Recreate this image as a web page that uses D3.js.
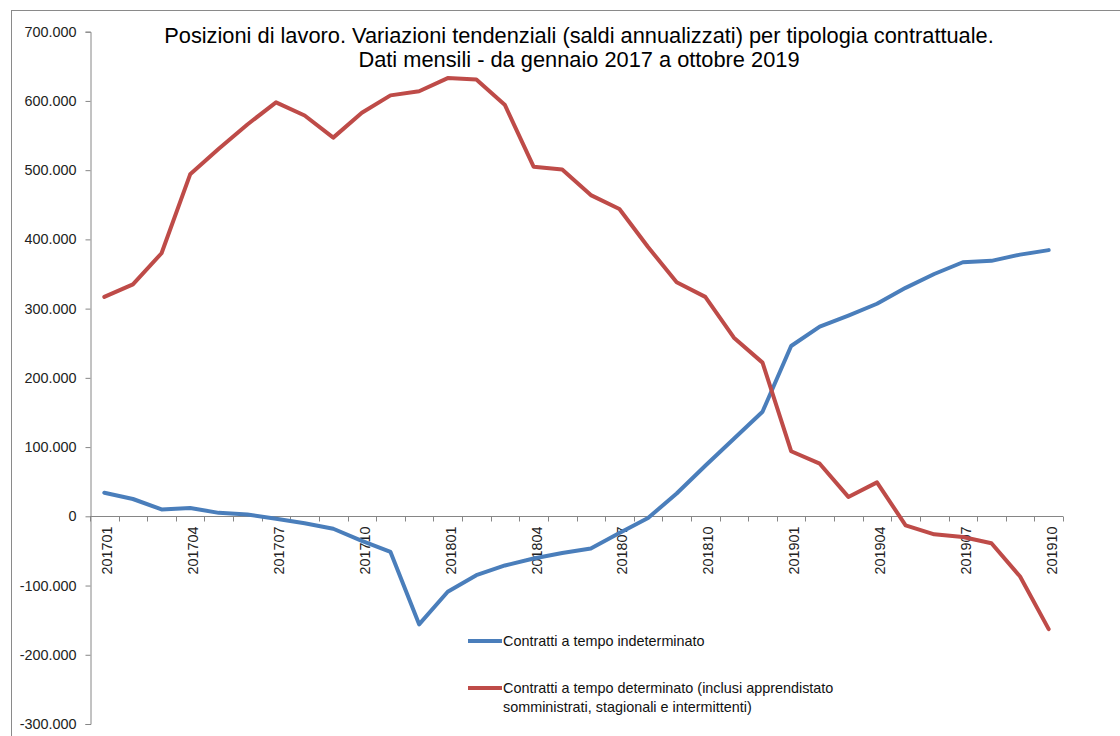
<!DOCTYPE html>
<html><head><meta charset="utf-8">
<script src="https://cdn.jsdelivr.net/npm/d3@7"></script>
<style>
html,body{margin:0;padding:0;background:#fff;}
svg{display:block;}
</style></head>
<body>
<svg id="chart" width="1120" height="736"></svg>
<script>
const months = ["201701","201702","201703","201704","201705","201706","201707","201708","201709","201710","201711","201712",
"201801","201802","201803","201804","201805","201806","201807","201808","201809","201810","201811","201812",
"201901","201902","201903","201904","201905","201906","201907","201908","201909","201910"];
const indeterminato = [34000,25000,10000,12000,5000,2500,-3500,-10000,-18000,-35500,-51500,-156000,
-109000,-85000,-71000,-61000,-53000,-46500,-24000,-2500,33000,73000,112000,151000,
246000,274000,290000,307000,330000,350000,367000,369000,378000,384500];
const determinato = [317000,335000,380000,494000,531000,566000,598000,579000,547000,583000,608000,614000,
633000,631000,594000,505000,501000,464000,444000,389000,338000,317000,258000,222000,
94000,76000,28000,49000,-13000,-26000,-30000,-39000,-87000,-163000];
const xLabels = ["201701","201704","201707","201710","201801","201804","201807","201810","201901","201904","201907","201910"];
const yTicks = [-300000,-200000,-100000,0,100000,200000,300000,400000,500000,600000,700000];
const titleLines = ["Posizioni di lavoro. Variazioni tendenziali (saldi annualizzati) per tipologia contrattuale.",
"Dati mensili - da gennaio 2017 a ottobre 2019"];
const seriesNames = ["Contratti a tempo indeterminato",
["Contratti a tempo determinato (inclusi apprendistato","somministrati, stagionali e intermittenti)"]];
const colors = ["#4A7EBB","#BE4B48"];

const svg = d3.select("#chart");
const font = "'Liberation Sans', Arial, sans-serif";
const small = "14.4px";

// outer border
svg.append("rect").attr("x",11.5).attr("y",10.5).attr("width",1200).attr("height",800)
  .attr("fill","none").attr("stroke","#8a8a8a").attr("stroke-width",1);

const x = d3.scaleBand().domain(months).range([90,1063]).padding(0);
const y = d3.scaleLinear().domain([-300000,700000]).range([724,31.7]);
const cx = d => x(d) + x.bandwidth()/2;

const loc = d3.formatLocale({decimal:",",thousands:".",grouping:[3],currency:["",""],minus:"-"});
const fmt = loc.format(",");

// y axis
const yAxis = svg.append("g").attr("transform","translate(90.5,0)")
  .call(d3.axisLeft(y).tickValues(yTicks).tickSize(5).tickPadding(9).tickFormat(d => fmt(d)));
yAxis.select(".domain").attr("stroke","#868686");
yAxis.selectAll(".tick line").attr("stroke","#868686");
yAxis.selectAll(".tick text").attr("font-family",font).attr("font-size",small).attr("fill","#222");

// x axis at zero
const y0 = Math.round(y(0)) + 0.5;
const xg = svg.append("g");
xg.append("line").attr("x1",x.range()[0]).attr("x2",x.range()[1]).attr("y1",y0).attr("y2",y0).attr("stroke","#868686");
const bounds = months.map(m => x(m)).concat([x.range()[1]]);
xg.selectAll("line.tk").data(bounds).join("line").attr("class","tk")
  .attr("x1",d=>Math.round(d)+0.5).attr("x2",d=>Math.round(d)+0.5).attr("y1",y0).attr("y2",y0+5).attr("stroke","#868686");
xg.selectAll("text.xl").data(xLabels).join("text").attr("class","xl")
  .attr("transform",d=>`translate(${cx(d)+3},${y0+10}) rotate(-90)`)
  .attr("text-anchor","end").attr("dy","0.35em")
  .attr("font-family",font).attr("font-size",small).attr("fill","#222")
  .text(d=>d);

// lines
const line = d3.line().x((d,i)=>cx(months[i])).y(d=>y(d));
[indeterminato, determinato].forEach((s,k)=>{
  svg.append("path").datum(s).attr("d",line).attr("fill","none")
    .attr("stroke",colors[k]).attr("stroke-width",4).attr("stroke-linejoin","round").attr("stroke-linecap","round");
});

// title
const tt = svg.append("text").attr("font-family",font).attr("font-size","21.8px").attr("fill","#000").attr("text-anchor","middle");
tt.append("tspan").attr("x",579).attr("y",43).text(titleLines[0]);
tt.append("tspan").attr("x",579).attr("y",67).text(titleLines[1]);

// legend
const lg = svg.append("g");
lg.append("line").attr("x1",468).attr("x2",502).attr("y1",641).attr("y2",641).attr("stroke",colors[0]).attr("stroke-width",4);
lg.append("text").attr("x",503).attr("y",646).attr("font-family",font).attr("font-size",small).attr("fill","#111").text(seriesNames[0]);
lg.append("line").attr("x1",468).attr("x2",502).attr("y1",688).attr("y2",688).attr("stroke",colors[1]).attr("stroke-width",4);
const t2 = lg.append("text").attr("font-family",font).attr("font-size",small).attr("fill","#111");
t2.append("tspan").attr("x",503).attr("y",693).text(seriesNames[1][0]);
t2.append("tspan").attr("x",503).attr("y",711.5).text(seriesNames[1][1]);
</script>
</body></html>
